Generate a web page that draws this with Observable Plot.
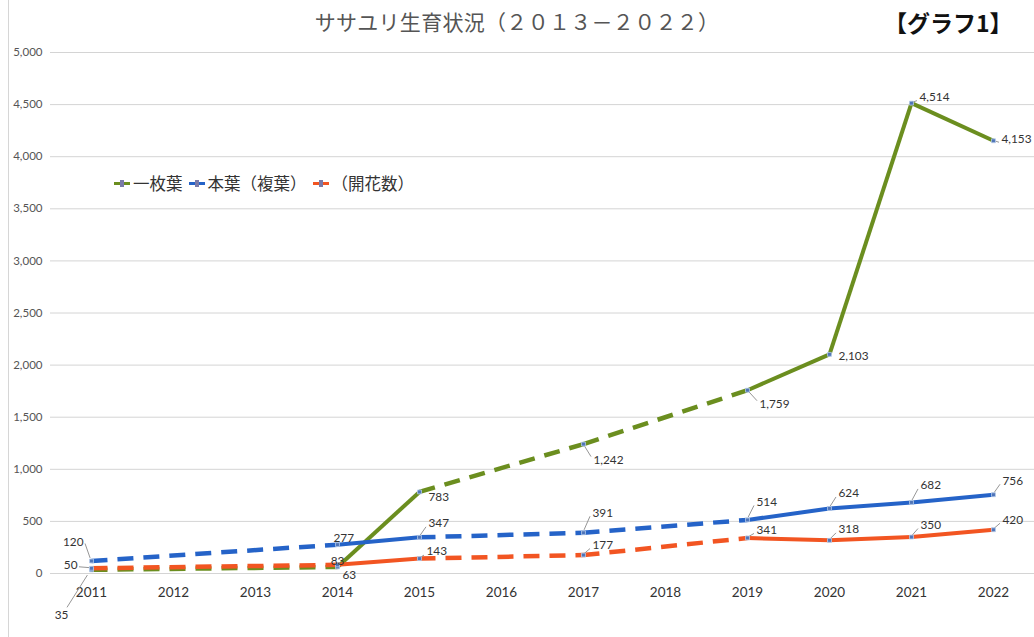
<!DOCTYPE html>
<html><head><meta charset="utf-8">
<script src="https://cdn.jsdelivr.net/npm/d3@7"></script>
<script src="https://cdn.jsdelivr.net/npm/@observablehq/plot@0.6"></script>
<style>
body{margin:0;background:#fff;}
#wrap{position:relative;width:1034px;height:637px;overflow:hidden;background:#fff;font-family:"Noto Sans CJK JP",sans-serif;}
#title{position:absolute;left:0;top:6px;width:1034px;text-align:center;font-size:21px;color:#555;letter-spacing:0.3px;}
#tag{position:absolute;left:884px;top:5px;font-size:23px;font-weight:700;color:#111;}
#chart{position:absolute;left:0;top:40px;}
#legend{position:absolute;left:114px;top:171px;font-size:16.5px;color:#333;display:flex;align-items:center;white-space:nowrap;}
.lg{display:inline-flex;align-items:center;margin-right:6px;}
.sw{position:relative;display:inline-block;width:16px;height:3px;margin-right:3px;}
.sw i{position:absolute;left:6px;top:-2px;width:4px;height:7px;background:#7a7aa8;}
#edge{position:absolute;left:8px;top:0;width:1px;height:637px;background:#d6d6d6;}
</style></head>
<body>
<div id="wrap">
  <div id="edge"></div>
  <div id="title">ササユリ生育状況（２０１３－２０２２）</div>
  <div id="tag">【グラフ1】</div>
  <div id="chart"></div>
  <div id="legend"></div>
</div>
<script>
// ---- data ----
const years = [2011, 2014, 2015, 2017, 2019, 2020, 2021, 2022];
const ichimaiba = [35, 63, 783, 1242, 1759, 2103, 4514, 4153];   // 一枚葉
const honba = [120, 277, 347, 391, 514, 624, 682, 756];          // 本葉（複葉）
const kaika = [50, 83, 143, 177, 341, 318, 350, 420];            // （開花数）
const seriesNames = ["一枚葉", "本葉（複葉）", "（開花数）"];
const xTicks = [2011, 2012, 2013, 2014, 2015, 2016, 2017, 2018, 2019, 2020, 2021, 2022];
const yTicks = [0, 500, 1000, 1500, 2000, 2500, 3000, 3500, 4000, 4500, 5000];

// ---- styles ----
const colors = ["#6b8e1f", "#2563c8", "#f25522"];
// label offsets (dx, dy, anchor, leader?) per series per point
const labelStyle = [
  [[-30, 45, "middle", 1], [5, 8, "start", 0], [9, 5, "start", 0], [10, 16, "start", 1], [12, 14, "start", 1], [9, 2, "start", 0], [8, -6, "start", 1], [8, -2, "start", 1]],
  [[-8, -19, "end", 1], [-4, -6, "start", 0], [9, -14, "start", 1], [9, -20, "start", 1], [9, -18, "start", 1], [9, -15, "start", 1], [9, -17, "start", 1], [9, -14, "start", 1]],
  [[-14, -3, "end", 1], [0, -4, "middle", 0], [7, -7, "start", 1], [9, -10, "start", 1], [9, -8, "start", 1], [9, -11, "start", 1], [9, -12, "start", 1], [9, -10, "start", 1]]
];

const all = [ichimaiba, honba, kaika];
const points = [];
const segs = [];
all.forEach((vals, s) => {
  vals.forEach((v, i) => {
    const st = labelStyle[s][i];
    points.push({series: seriesNames[s], s, year: years[i], value: v,
      dx: st[0], dy: st[1], anchor: st[2], leader: st[3]});
    if (i < vals.length - 1) {
      segs.push({series: seriesNames[s], s, x1: years[i], y1: v, x2: years[i + 1], y2: vals[i + 1],
        dashed: years[i + 1] - years[i] > 1});
    }
  });
});

const fmt = d3.format(",");
const labelMarks = [];
for (const p of points) {
  labelMarks.push(Plot.text([p], {x: "year", y: "value", text: d => fmt(d.value),
    dx: p.dx, dy: p.dy, textAnchor: p.anchor, fill: "#333", fontSize: 11.8,
    fontFamily: "Lato, 'Open Sans', sans-serif"}));
}

const lineMarks = [];
[0, 1, 2].forEach(s => {
  lineMarks.push(Plot.link(segs.filter(d => d.s === s && !d.dashed), {x1: "x1", y1: "y1", x2: "x2", y2: "y2",
    stroke: colors[s], strokeWidth: 4, strokeLinecap: "butt"}));
  lineMarks.push(Plot.link(segs.filter(d => d.s === s && d.dashed), {x1: "x1", y1: "y1", x2: "x2", y2: "y2",
    stroke: colors[s], strokeWidth: 4.5, strokeDasharray: "16,10", strokeLinecap: "butt"}));
});

// leader lines from point to label, positioned through the plot's scales
function leaders(index, scales) {
  const g = d3.create("svg:g").attr("stroke", "#8a8a8a").attr("stroke-width", 0.9).attr("fill", "none");
  for (const p of points) {
    if (!p.leader) continue;
    const px = scales.x(p.year), py = scales.y(p.value);
    let ex, ey;
    if (p.anchor === "start") { ex = px + p.dx - 2; ey = py + p.dy + (p.dy < 0 ? 4 : -3); }
    else if (p.anchor === "end") { ex = px + p.dx + 2; ey = py + p.dy + 2; }
    else { ex = px + p.dx + 6; ey = py + p.dy - 7; }
    const sx = px + (ex - px) * 0.15, sy = py + (ey - py) * 0.15;
    g.append("path").attr("d", `M${sx},${sy}L${ex},${ey}`);
  }
  return g.node();
}

const chart = Plot.plot({
  width: 1034,
  height: 597,
  marginLeft: 50,
  marginRight: 0,
  marginTop: 12,
  marginBottom: 64,
  style: {fontFamily: "Lato, 'Open Sans', sans-serif", fontSize: "12.5px", color: "#555", background: "transparent", overflow: "visible"},
  x: {type: "linear", domain: [2010.5, 2022.5], ticks: xTicks, tickFormat: d => String(d), tickSize: 0, tickPadding: 14, label: null},
  y: {domain: [0, 5000], ticks: yTicks, tickFormat: d => fmt(d), tickSize: 0, tickPadding: 8, label: null},
  marks: [
    Plot.gridY(yTicks, {stroke: "#d4d4d4", strokeOpacity: 1, strokeWidth: 1}),
    Plot.axisX(xTicks, {tickSize: 0, tickPadding: 14, tickFormat: d => String(d), fill: "#333", fontSize: 13.5}),
    Plot.axisY(yTicks, {tickSize: 0, tickPadding: 8, tickFormat: d => fmt(d), fill: "#555", fontSize: 11.5}),
    ...lineMarks,
    leaders,
    Plot.dot(points, {x: "year", y: "value", symbol: "square", r: 2.2, fill: "#4f74b8", stroke: "#b8cdea", strokeWidth: 0.8}),
    ...labelMarks
  ]
});
document.getElementById("chart").appendChild(chart);

// legend
const lg = document.getElementById("legend");
seriesNames.forEach((n, i) => {
  const item = document.createElement("span");
  item.className = "lg";
  const sw = document.createElement("span");
  sw.className = "sw";
  sw.style.background = colors[i];
  sw.appendChild(document.createElement("i"));
  item.appendChild(sw);
  const t = document.createElement("span");
  t.textContent = n;
  item.appendChild(t);
  lg.appendChild(item);
});
</script>
</body></html>
